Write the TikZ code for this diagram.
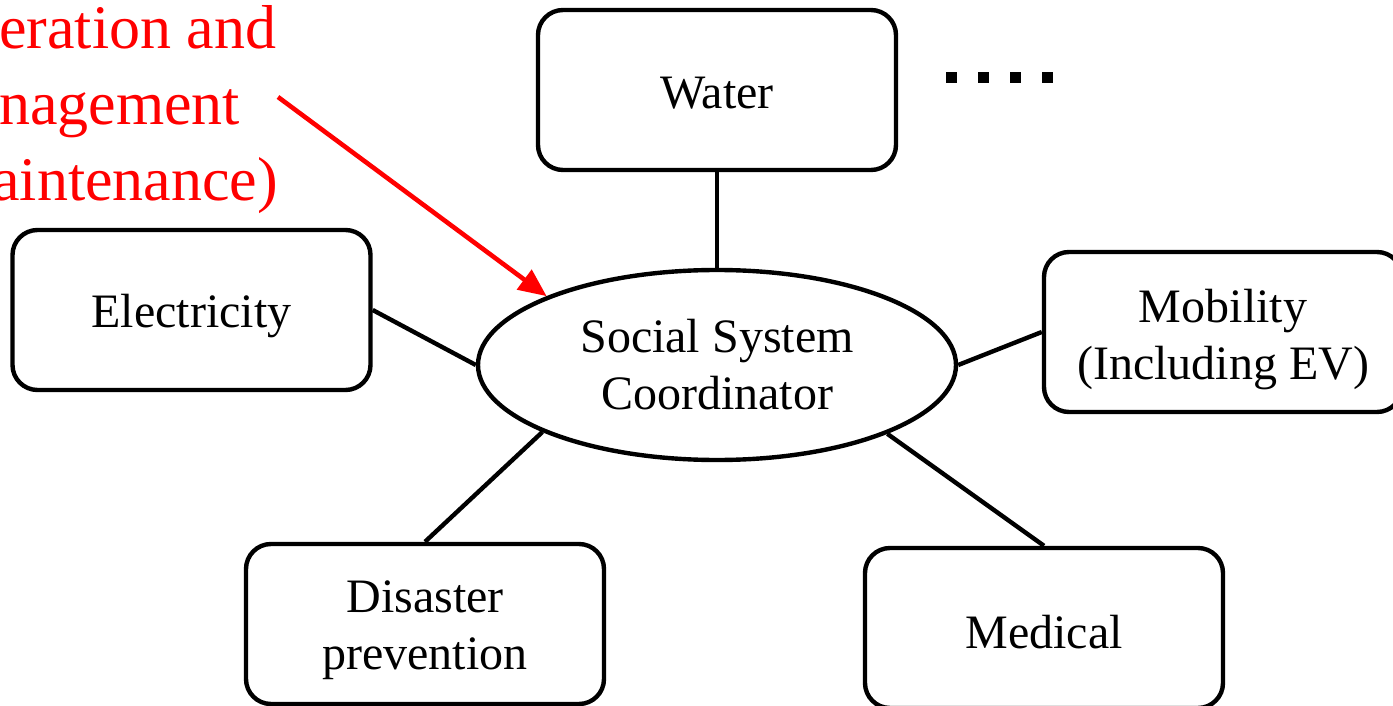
\documentclass[tikz,border=0pt]{standalone}
\usepackage{fontspec}
\setmainfont{Liberation Serif}
\usetikzlibrary{arrows.meta,shapes.geometric}
\begin{document}
\begin{tikzpicture}[x=0.5pt,y=-0.5pt,
  box/.style={draw,line width=2.2pt,rounded corners=12.5pt,minimum width=179pt,minimum height=80pt,inner sep=0pt},
  boxtext/.style={align=center,inner sep=0pt,font=\fontsize{24}{28.5}\selectfont},
  hub/.style={draw,ellipse,line width=2.2pt,minimum width=239pt,minimum height=95pt,inner sep=0pt,align=center,font=\fontsize{24}{28.5}\selectfont},
  link/.style={line width=2.2pt},
  redarrow/.style={draw=red,line width=2.3pt,-{Triangle[length=14pt,width=12pt]}},
  dot/.style={fill=black}]
\useasboundingbox (0,0) rectangle (1393,706);
\clip (0,0) rectangle (1393,706);
\node[hub] (coord) at (717,365) {Social System\\Coordinator};
\node[box,label={[boxtext,yshift=-1.5pt]center:Water}] (water) at (717,90) {};
\node[box,label={[boxtext,yshift=-3pt]center:Electricity}] (elec) at (191.5,310) {};
\node[box,label={[boxtext,yshift=-4pt]center:Mobility\\(Including EV)}] (mob) at (1223,332) {};
\node[box,label={[boxtext,yshift=-3pt]center:Disaster\\prevention}] (dis) at (425,624) {};
\node[box,label={[boxtext,yshift=-2pt]center:Medical}] (med) at (1044,628) {};
\draw[link] (water) -- (coord);
\draw[link] (elec.east) -- (coord.west);
\draw[link] (mob.west) -- (coord.east);
\draw[link] (dis.north) -- (coord.201.6);
\draw[link] (med.north) -- (coord.338.4);
\node[anchor=base west,inner sep=0pt,align=left,text=red,font=\fontsize{31}{38}\selectfont] (note) at (-77,200) {Operation and\\management\\(maintenance)};
\coordinate (arrstart) at (278,97);
\draw[redarrow] (arrstart) -- (coord.158);
\foreach \x in {946,978,1010,1042} \fill[dot] (\x,72) rectangle (\x+11,83);
\end{tikzpicture}
\end{document}
